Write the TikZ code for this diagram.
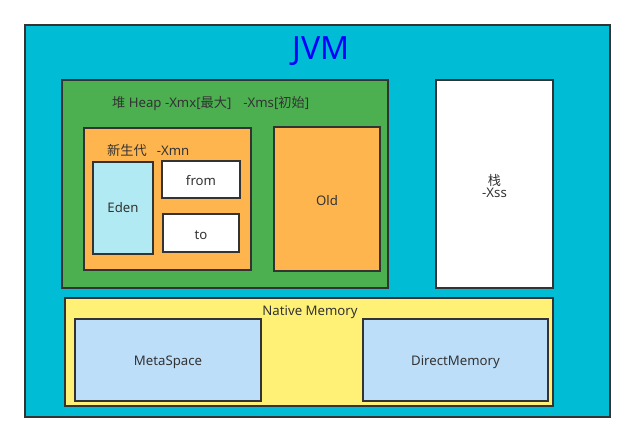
\documentclass[tikz,border=0pt]{standalone}
\usepackage{fontspec}
\setmainfont{Noto Sans}
\newfontfamily\cjk{Noto Sans CJK SC}
\begin{document}
\begin{tikzpicture}[x=1pt,y=-1pt,
  box/.style={draw=boxline,line width=1.6pt,inner sep=0pt,text=txt,font=\fontsize{13.2}{15}\selectfont},
  lbl/.style={inner sep=0pt,text=txt,font=\fontsize{13.2}{15}\selectfont}]
\definecolor{boxline}{HTML}{333333}
\definecolor{txt}{HTML}{333333}
\definecolor{jvmc}{HTML}{00BCD4}
\definecolor{heapc}{HTML}{4CAF50}
\definecolor{orangec}{HTML}{FFB54D}
\definecolor{edenc}{HTML}{B1EAF2}
\definecolor{yellowc}{HTML}{FFF176}
\definecolor{bluec}{HTML}{BDDEF9}
\useasboundingbox (0,0) rectangle (636,443);
\fill[white] (0,0) rectangle (636,443);
\node[box,fill=jvmc,minimum width=585pt,minimum height=392pt] (jvm) at (317.5,221) {};
\node[inner sep=0pt,text=blue,font=\fontsize{32}{36}\selectfont] (jvmt) at (321,51) {JVM};
\node[box,fill=heapc,minimum width=326pt,minimum height=208pt] (heap) at (225,184) {};
\node[lbl,anchor=west] (heapt) at (112,104) {{\cjk 堆} Heap -Xmx[{\cjk 最大}]\hspace{12pt}-Xms[{\cjk 初始}]};
\node[box,fill=orangec,minimum width=167pt,minimum height=142pt] (young) at (167.5,199) {};
\node[lbl,anchor=west] (youngt) at (107,150) {{\cjk 新生代}\hspace{10pt}-Xmn};
\node[box,fill=edenc,minimum width=60pt,minimum height=92pt] (eden) at (123,208) {Eden};
\node[box,fill=white,minimum width=78pt,minimum height=37pt] (from) at (201,179.5) {};
\node[lbl] (fromt) at (201,181) {from};
\node[box,fill=white,minimum width=76pt,minimum height=38pt] (to) at (201,233) {};
\node[lbl] (tot) at (201,235) {to};
\node[box,fill=orangec,minimum width=106pt,minimum height=144pt] (old) at (327,199) {};
\node[lbl] (oldt) at (327,201) {Old};
\node[box,fill=white,minimum width=117pt,minimum height=208pt] (stack) at (494.5,184) {};
\node[lbl,align=center] (stackt) at (494.5,186) {{\cjk 栈}\\[-3pt]-Xss};
\node[box,fill=yellowc,minimum width=488pt,minimum height=108pt] (native) at (309,352) {};
\node[lbl] (nativet) at (310,312) {Native Memory};
\node[box,fill=bluec,minimum width=186pt,minimum height=82pt] (meta) at (168,360) {};
\node[lbl] (metat) at (168,362) {MetaSpace};
\node[box,fill=bluec,minimum width=185pt,minimum height=82pt] (direct) at (455.5,360) {};
\node[lbl] (directt) at (455.5,362) {DirectMemory};
\end{tikzpicture}
\end{document}
